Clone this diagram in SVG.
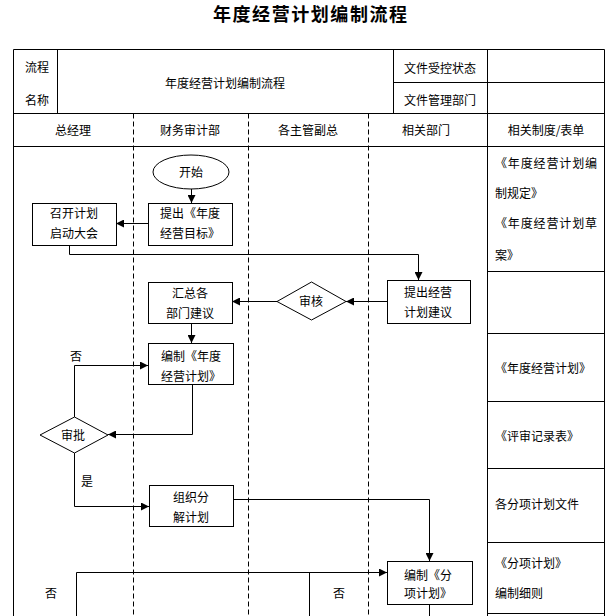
<svg xmlns="http://www.w3.org/2000/svg" width="611" height="616" viewBox="0 0 611 616">
<defs>
<style>
text{font-family:"Noto Sans CJK SC","Liberation Sans",sans-serif;font-size:12px;fill:#000}
.c{text-anchor:middle}
.title{font-size:18px;font-weight:bold}
.ln{stroke:#000;stroke-width:1;fill:none}
.dash{stroke:#000;stroke-width:1;fill:none;stroke-dasharray:5 3}
.box{stroke:#000;stroke-width:1;fill:#fff}
.conn{stroke:#000;stroke-width:1;fill:none;marker-end:url(#ah)}
.plain{stroke:#000;stroke-width:1;fill:none}
</style>
<marker id="ah" viewBox="0 0 10 10" refX="10" refY="5" markerWidth="8" markerHeight="8" markerUnits="userSpaceOnUse" orient="auto">
<path d="M0,0 L10,5 L0,10 Z" fill="#000"/>
</marker>
</defs>
<rect width="611" height="616" fill="#fff"/>
<text class="c title" x="310" y="21" textLength="194">年度经营计划编制流程</text>

<g id="table">
<path class="ln" d="M13.5,49.5 H604.5 M13.5,49.5 V616 M604.5,49.5 V616 M57.5,49.5 V113.5 M393.5,49.5 V113.5 M393.5,82.5 H604.5 M13.5,113.5 H604.5 M13.5,146.5 H604.5 M487.5,49.5 V616"/>
<path class="ln" d="M487.5,271.5 H604.5 M487.5,333.5 H604.5 M487.5,401.5 H604.5 M487.5,468.5 H604.5 M487.5,542.5 H604.5 M487.5,613.5 H604.5"/>
<path class="dash" d="M133.5,113.5 V616 M248.5,113.5 V616 M368.5,113.5 V616"/>
<text class="c" x="37" y="71.5">流程</text>
<text class="c" x="37" y="104.5">名称</text>
<text class="c" x="225" y="87.5">年度经营计划编制流程</text>
<text class="c" x="440" y="72.5">文件受控状态</text>
<text class="c" x="440" y="104.5">文件管理部门</text>
<text class="c" x="73" y="134.5">总经理</text>
<text class="c" x="190" y="134.5">财务审计部</text>
<text class="c" x="308" y="134.5">各主管副总</text>
<text class="c" x="426" y="134.5">相关部门</text>
<text class="c" x="546" y="134.5">相关制度/表单</text>
<text x="495" y="167.5" textLength="102">《年度经营计划编</text>
<text x="495" y="197.5">制规定》</text>
<text x="495" y="227.5" textLength="102">《年度经营计划草</text>
<text x="495" y="259.5">案》</text>
<text x="495" y="372.5">《年度经营计划》</text>
<text x="495" y="440.5">《评审记录表》</text>
<text x="495" y="508.5">各分项计划文件</text>
<text x="495" y="567.5">《分项计划》</text>
<text x="495" y="597.5">编制细则</text>
</g>

<g id="connectors">
<path class="conn" d="M191.5,189 V203"/>
<path class="conn" d="M148,223.5 H116"/>
<path class="conn" d="M69.5,245 V254.5 H418.5 V280"/>
<path class="conn" d="M387,301.5 H346"/>
<path class="conn" d="M277,301.5 H232"/>
<path class="conn" d="M191.5,323 V343"/>
<path class="conn" d="M192.5,384 V434.5 H108"/>
<path class="conn" d="M74.5,417 V365.5 H148"/>
<path class="conn" d="M74.5,453 V506.5 H149"/>
<path class="conn" d="M233,499.5 H429.5 V561"/>
<path class="conn" d="M76.5,616 V572.5 H387"/>
<path class="plain" d="M309.5,572.5 V616"/>
<path class="plain" d="M429.5,604 V616"/>
<text class="c" x="76" y="360.5">否</text>
<text class="c" x="87" y="485.5">是</text>
<text class="c" x="51" y="597.5">否</text>
<text class="c" x="339" y="597.5">否</text>
</g>

<g id="start">
<ellipse class="box" cx="191" cy="172" rx="38" ry="17"/>
<text class="c" x="191" y="176.5">开始</text>
</g>
<g id="n_goal">
<rect class="box" x="148.5" y="203.5" width="84" height="42"/>
<text class="c" x="190" y="217.5">提出《年度</text>
<text class="c" x="190" y="237.5">经营目标》</text>
</g>
<g id="n_meeting">
<rect class="box" x="32.5" y="203.5" width="84" height="42"/>
<text class="c" x="74" y="217.5">召开计划</text>
<text class="c" x="74" y="237.5">启动大会</text>
</g>
<g id="n_suggest">
<rect class="box" x="387.5" y="280.5" width="83" height="43"/>
<text class="c" x="428" y="296.5">提出经营</text>
<text class="c" x="428" y="316.5">计划建议</text>
</g>
<g id="n_review">
<polygon class="box" points="311.5,282 346,301.5 311.5,320 277,301.5"/>
<text class="c" x="311" y="306">审核</text>
</g>
<g id="n_collect">
<rect class="box" x="148.5" y="282.5" width="84" height="41"/>
<text class="c" x="190" y="297.5">汇总各</text>
<text class="c" x="190" y="318">部门建议</text>
</g>
<g id="n_plan">
<rect class="box" x="148.5" y="343.5" width="85" height="41"/>
<text class="c" x="191" y="360.5">编制《年度</text>
<text class="c" x="191" y="380.5">经营计划》</text>
</g>
<g id="n_approve">
<polygon class="box" points="74.5,417 108,435 74.5,453 40,435"/>
<text class="c" x="73" y="439.5">审批</text>
</g>
<g id="n_decompose">
<rect class="box" x="149.5" y="485.5" width="84" height="41"/>
<text class="c" x="191" y="501.5">组织分</text>
<text class="c" x="191" y="521.5">解计划</text>
</g>
<g id="n_subplan">
<rect class="box" x="387.5" y="561.5" width="85" height="43"/>
<text class="c" x="428" y="579.5">编制《分</text>
<text class="c" x="428" y="597.5">项计划》</text>
</g>
</svg>
